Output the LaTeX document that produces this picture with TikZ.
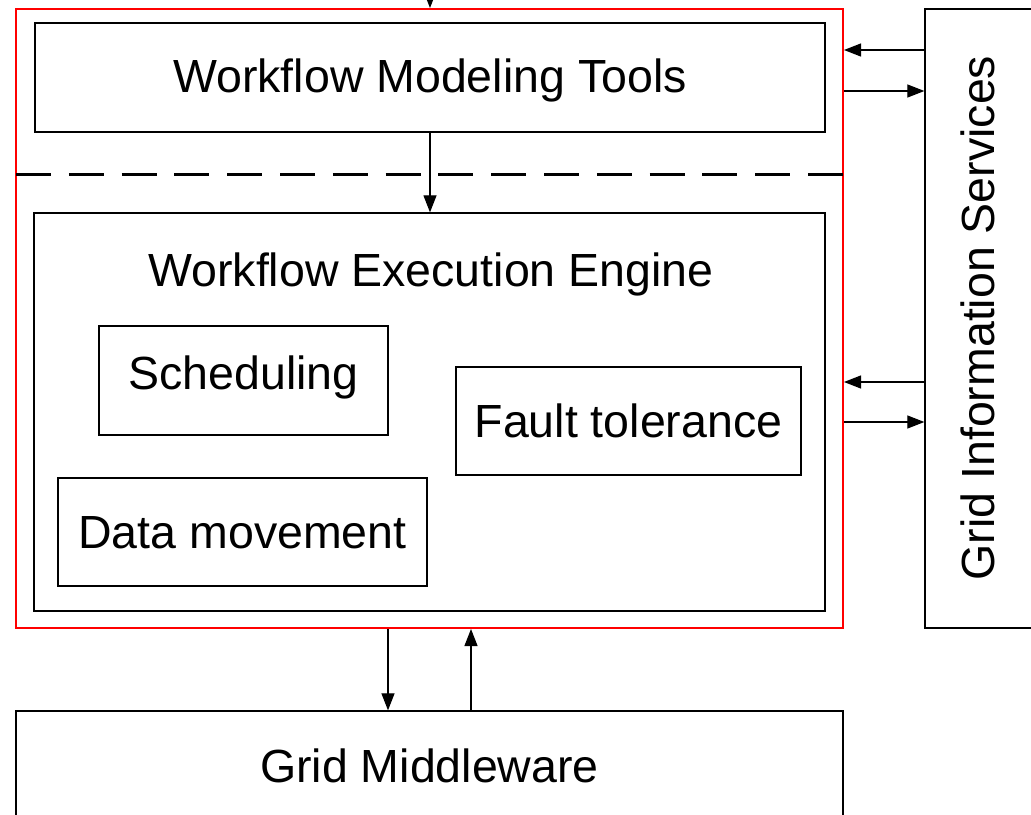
\documentclass[tikz,border=0pt]{standalone}
\usepackage{fontspec}
\setmainfont{Liberation Sans}
\usetikzlibrary{arrows.meta}
\begin{document}
\begin{tikzpicture}[x=1bp,y=-1bp,
  box/.style={draw=black, line width=1.3bp, inner sep=0pt, align=center},
  frame/.style={draw=red, line width=2bp, inner sep=0pt},
  lbl/.style={inner sep=0pt, anchor=base, font=\fontsize{46.5bp}{56bp}\selectfont},
  arr/.style={line width=1.2bp, -{Triangle[length=17bp,width=13bp]}},
  sep/.style={line width=3bp, dash pattern=on 35bp off 17.8bp}]
\useasboundingbox (0,0) rectangle (1031,815);
\clip (0,0) rectangle (1031,815);

% outer engine frame
\node[frame, minimum width=827bp, minimum height=619bp] (frame) at (429.5,318.5) {};

% modeling layer
\node[box, minimum width=790bp, minimum height=109bp] (wmt) at (430,77.5) {};
\node[lbl] (wmtl) at (430,93) {Workflow Modeling Tools};

% separator between modeling and execution
\coordinate (sepL) at (16,174);
\coordinate (sepR) at (843,174);
\draw[sep] (sepL) -- (sepR);

% execution engine and its components
\node[box, minimum width=791bp, minimum height=398bp] (wee) at (429.5,412) {};
\node[lbl] (weel) at (431,286) {Workflow Execution Engine};
\node[box, minimum width=289bp, minimum height=109bp] (sched) at (243.5,380.5) {};
\node[lbl] at (243.5,389) {Scheduling};
\node[box, minimum width=345bp, minimum height=108bp] (fault) at (628.5,421) {};
\node[lbl] at (628.5,437.5) {Fault tolerance};
\node[box, minimum width=369bp, minimum height=108bp] (data) at (242.5,532) {};
\node[lbl] at (242.5,548.5) {Data movement};

% information services
\node[box, minimum width=115bp, minimum height=619bp] (gis) at (982.5,318.5) {};
\node[lbl, anchor=center, rotate=90] (gisl) at (978,318) {Grid Information Services};

% middleware
\node[box, minimum width=827bp, minimum height=112bp] (gm) at (429.5,767) {};
\node[lbl] at (429.5,782) {Grid Middleware};

% connectors
\coordinate (top) at (430,-30);
\draw[arr] (top) -- (top |- frame.north);
\draw[arr] (wmt.south -| 430,0) -- (wee.north -| 430,0);
\draw[arr] (gis.west |- 0,50) -- (frame.east |- 0,50);
\draw[arr] (frame.east |- 0,91) -- (gis.west |- 0,91);
\draw[arr] (gis.west |- 0,382) -- (frame.east |- 0,382);
\draw[arr] (frame.east |- 0,422) -- (gis.west |- 0,422);
\draw[arr] (frame.south -| 388,0) -- (gm.north -| 388,0);
\draw[arr] (gm.north -| 471,0) -- (frame.south -| 471,0);
\end{tikzpicture}
\end{document}
